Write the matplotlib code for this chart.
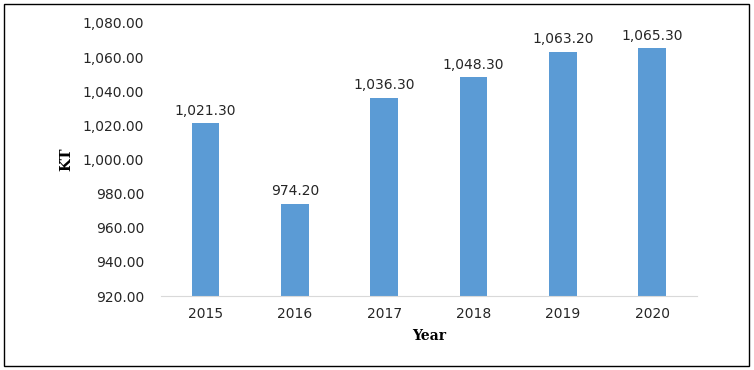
from matplotlib import pyplot as plt
from matplotlib.patches import Rectangle

#%% Data
years = ['2015', '2016', '2017', '2018', '2019', '2020']
kt = [1021.3, 974.2, 1036.3, 1048.3, 1063.2, 1065.3]
y_ticks = [920, 940, 960, 980, 1000, 1020, 1040, 1060, 1080]

#%% Plot
fig = plt.figure(figsize=(7.54, 3.70), dpi=100)
ax = fig.add_axes([0.2135, 0.2, 0.7105, 0.738])

x = range(len(years))
bars = ax.bar(x, kt, width=0.31, color='#5b9bd5', zorder=2)
for xi, v in zip(x, kt):
    ax.text(xi, v + 3, '{:,.2f}'.format(v), ha='center', va='bottom',
            fontsize=10, color='#262626')

ax.set_xlim(-0.5, len(years) - 0.5)
ax.set_ylim(920, 1080)
ax.set_yticks(y_ticks)
ax.set_yticklabels(['{:,.2f}'.format(t) for t in y_ticks])
ax.set_xticks(list(x))
ax.set_xticklabels(years)
ax.tick_params(axis='both', length=0, labelsize=10, labelcolor='#262626')
ax.tick_params(axis='y', pad=12)
ax.tick_params(axis='x', pad=8)

for s in ['top', 'right', 'left']:
    ax.spines[s].set_visible(False)
ax.spines['bottom'].set_color('#d9d9d9')

ax.set_xlabel('Year', fontfamily='DejaVu Serif', fontweight='bold', fontsize=10, labelpad=6)
ax.set_ylabel('KT', fontfamily='DejaVu Serif', fontweight='bold', fontsize=10.5, labelpad=7)

# outer border
fig.patches.append(Rectangle((0.005, 0.012), 0.988, 0.978, transform=fig.transFigure,
                             fill=False, edgecolor='black', linewidth=1))

plt.savefig('out.png', dpi=100)
